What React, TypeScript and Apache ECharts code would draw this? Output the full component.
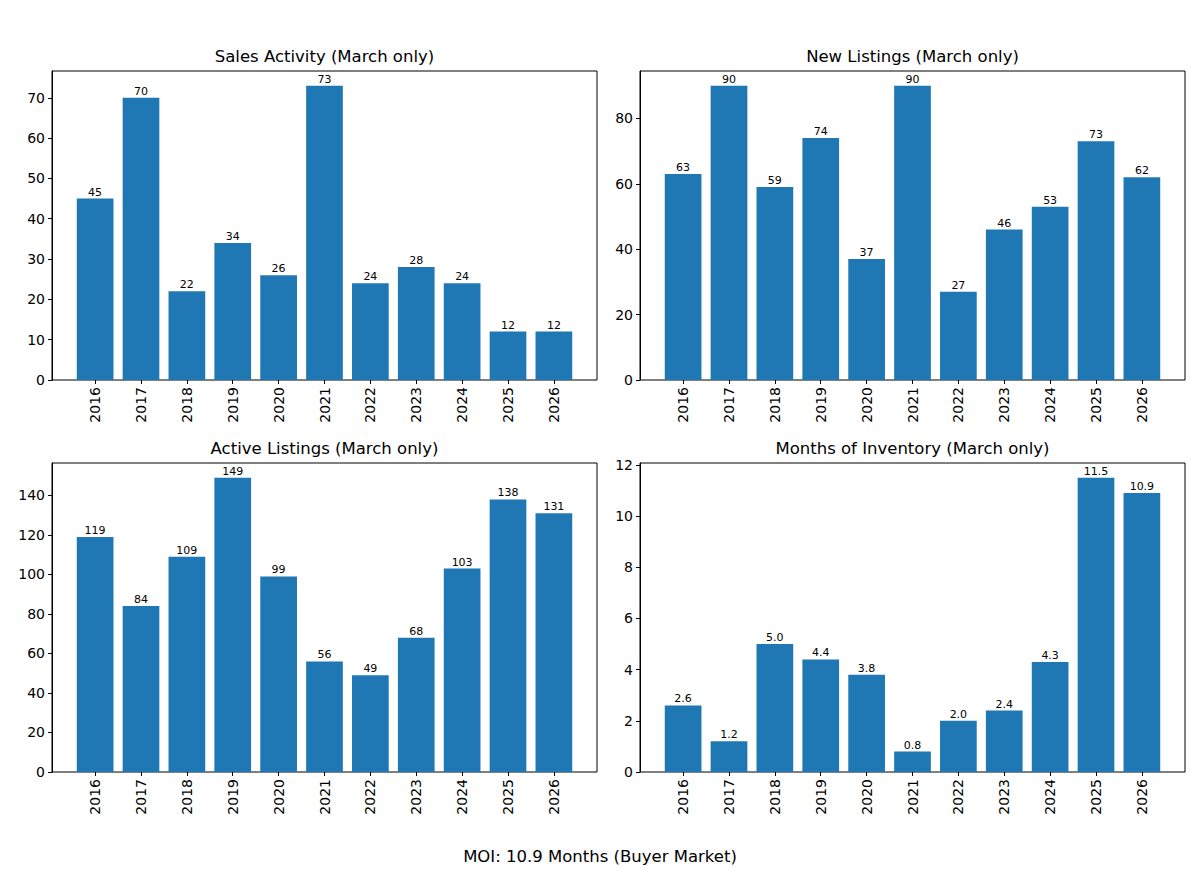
import React, { useEffect, useRef } from "react";
import * as echarts from "echarts";

const years = ["2016", "2017", "2018", "2019", "2020", "2021", "2022", "2023", "2024", "2025", "2026"];
const salesActivity = [45, 70, 22, 34, 26, 73, 24, 28, 24, 12, 12];
const newListings = [63, 90, 59, 74, 37, 90, 27, 46, 53, 73, 62];
const activeListings = [119, 84, 109, 149, 99, 56, 49, 68, 103, 138, 131];
const monthsOfInventory = [2.6, 1.2, 5.0, 4.4, 3.8, 0.8, 2.0, 2.4, 4.3, 11.5, 10.9];

const salesTicks = [0, 10, 20, 30, 40, 50, 60, 70];
const newTicks = [0, 20, 40, 60, 80];
const activeTicks = [0, 20, 40, 60, 80, 100, 120, 140];
const moiTicks = [0, 2, 4, 6, 8, 10, 12];

const titles = [
  "Sales Activity (March only)",
  "New Listings (March only)",
  "Active Listings (March only)",
  "Months of Inventory (March only)",
];
const footer = "MOI: 10.9 Months (Buyer Market)";

const FONT = "DejaVu Sans";
const BAR = "#1f77b4";

export default function App() {
  const ref = useRef<HTMLDivElement>(null);
  useEffect(() => {
    if (!ref.current) return;
    const chart = echarts.init(ref.current, null, { renderer: "svg" });
    const W = 545;
    const H = 309;
    const m = (0.44 / 11.88) * W;
    const panels = [
      { L: 52, T: 71, data: salesActivity, ticks: salesTicks, dec: 0 },
      { L: 640, T: 71, data: newListings, ticks: newTicks, dec: 0 },
      { L: 52, T: 463, data: activeListings, ticks: activeTicks, dec: 0 },
      { L: 640, T: 463, data: monthsOfInventory, ticks: moiTicks, dec: 1 },
    ];
    const grid: any[] = [];
    const xAxis: any[] = [];
    const yAxis: any[] = [];
    const series: any[] = [];
    const graphic: any[] = [];
    panels.forEach((p, i) => {
      const max = Math.max(...p.data) * 1.05;
      grid.push({
        left: p.L, top: p.T, width: W, height: H, show: true,
        borderColor: "#000", borderWidth: 1, backgroundColor: "transparent",
      });
      grid.push({ left: p.L + m, top: p.T, width: W - 2 * m, height: H, show: false });
      const fg = i * 2;
      const dg = i * 2 + 1;
      xAxis.push({ type: "value", gridIndex: fg, show: false, min: 0, max: 1 });
      xAxis.push({
        type: "category", gridIndex: dg, data: years, boundaryGap: true,
        axisLine: { show: false },
        axisTick: { show: true, alignWithLabel: true, length: 4, lineStyle: { color: "#000" } },
        axisLabel: { rotate: 90, fontSize: 14, color: "#000", fontFamily: FONT, margin: 7, interval: 0 },
        splitLine: { show: false },
      });
      yAxis.push({
        type: "value", gridIndex: fg, min: 0, max,
        axisLine: { show: true, lineStyle: { color: "#000" } },
        axisTick: { show: true, length: 4, lineStyle: { color: "#000" }, customValues: p.ticks },
        axisLabel: {
          fontSize: 14, color: "#000", fontFamily: FONT, margin: 7, customValues: p.ticks,
          formatter: (v: number) => String(v),
        },
        splitLine: { show: false },
      });
      yAxis.push({ type: "value", gridIndex: dg, min: 0, max, show: false, splitLine: { show: false } });
      series.push({
        type: "bar", xAxisIndex: dg, yAxisIndex: dg, data: p.data,
        barCategoryGap: "20%", itemStyle: { color: BAR },
        label: {
          show: true, position: "top", distance: 1, fontSize: 11, color: "#000", fontFamily: FONT,
          formatter: (d: any) => Number(d.value).toFixed(p.dec),
        },
      });
      graphic.push({
        type: "text", x: p.L + W / 2, y: p.T - 15,
        style: {
          text: titles[i], fontSize: 16.5, fill: "#000", fontFamily: FONT,
          textAlign: "center", textVerticalAlign: "middle",
        },
      });
    });
    graphic.push({
      type: "text", x: 600, y: 856,
      style: {
        text: footer, fontSize: 16.5, fill: "#000", fontFamily: FONT,
        textAlign: "center", textVerticalAlign: "middle",
      },
    });
    chart.setOption({
      animation: false,
      backgroundColor: "#fff",
      textStyle: { fontFamily: FONT },
      grid,
      xAxis,
      yAxis,
      series,
      graphic,
    });
    return () => chart.dispose();
  }, []);
  return <div ref={ref} style={{ position: "absolute", left: 0, top: 0, width: 1200, height: 882 }} />;
}
